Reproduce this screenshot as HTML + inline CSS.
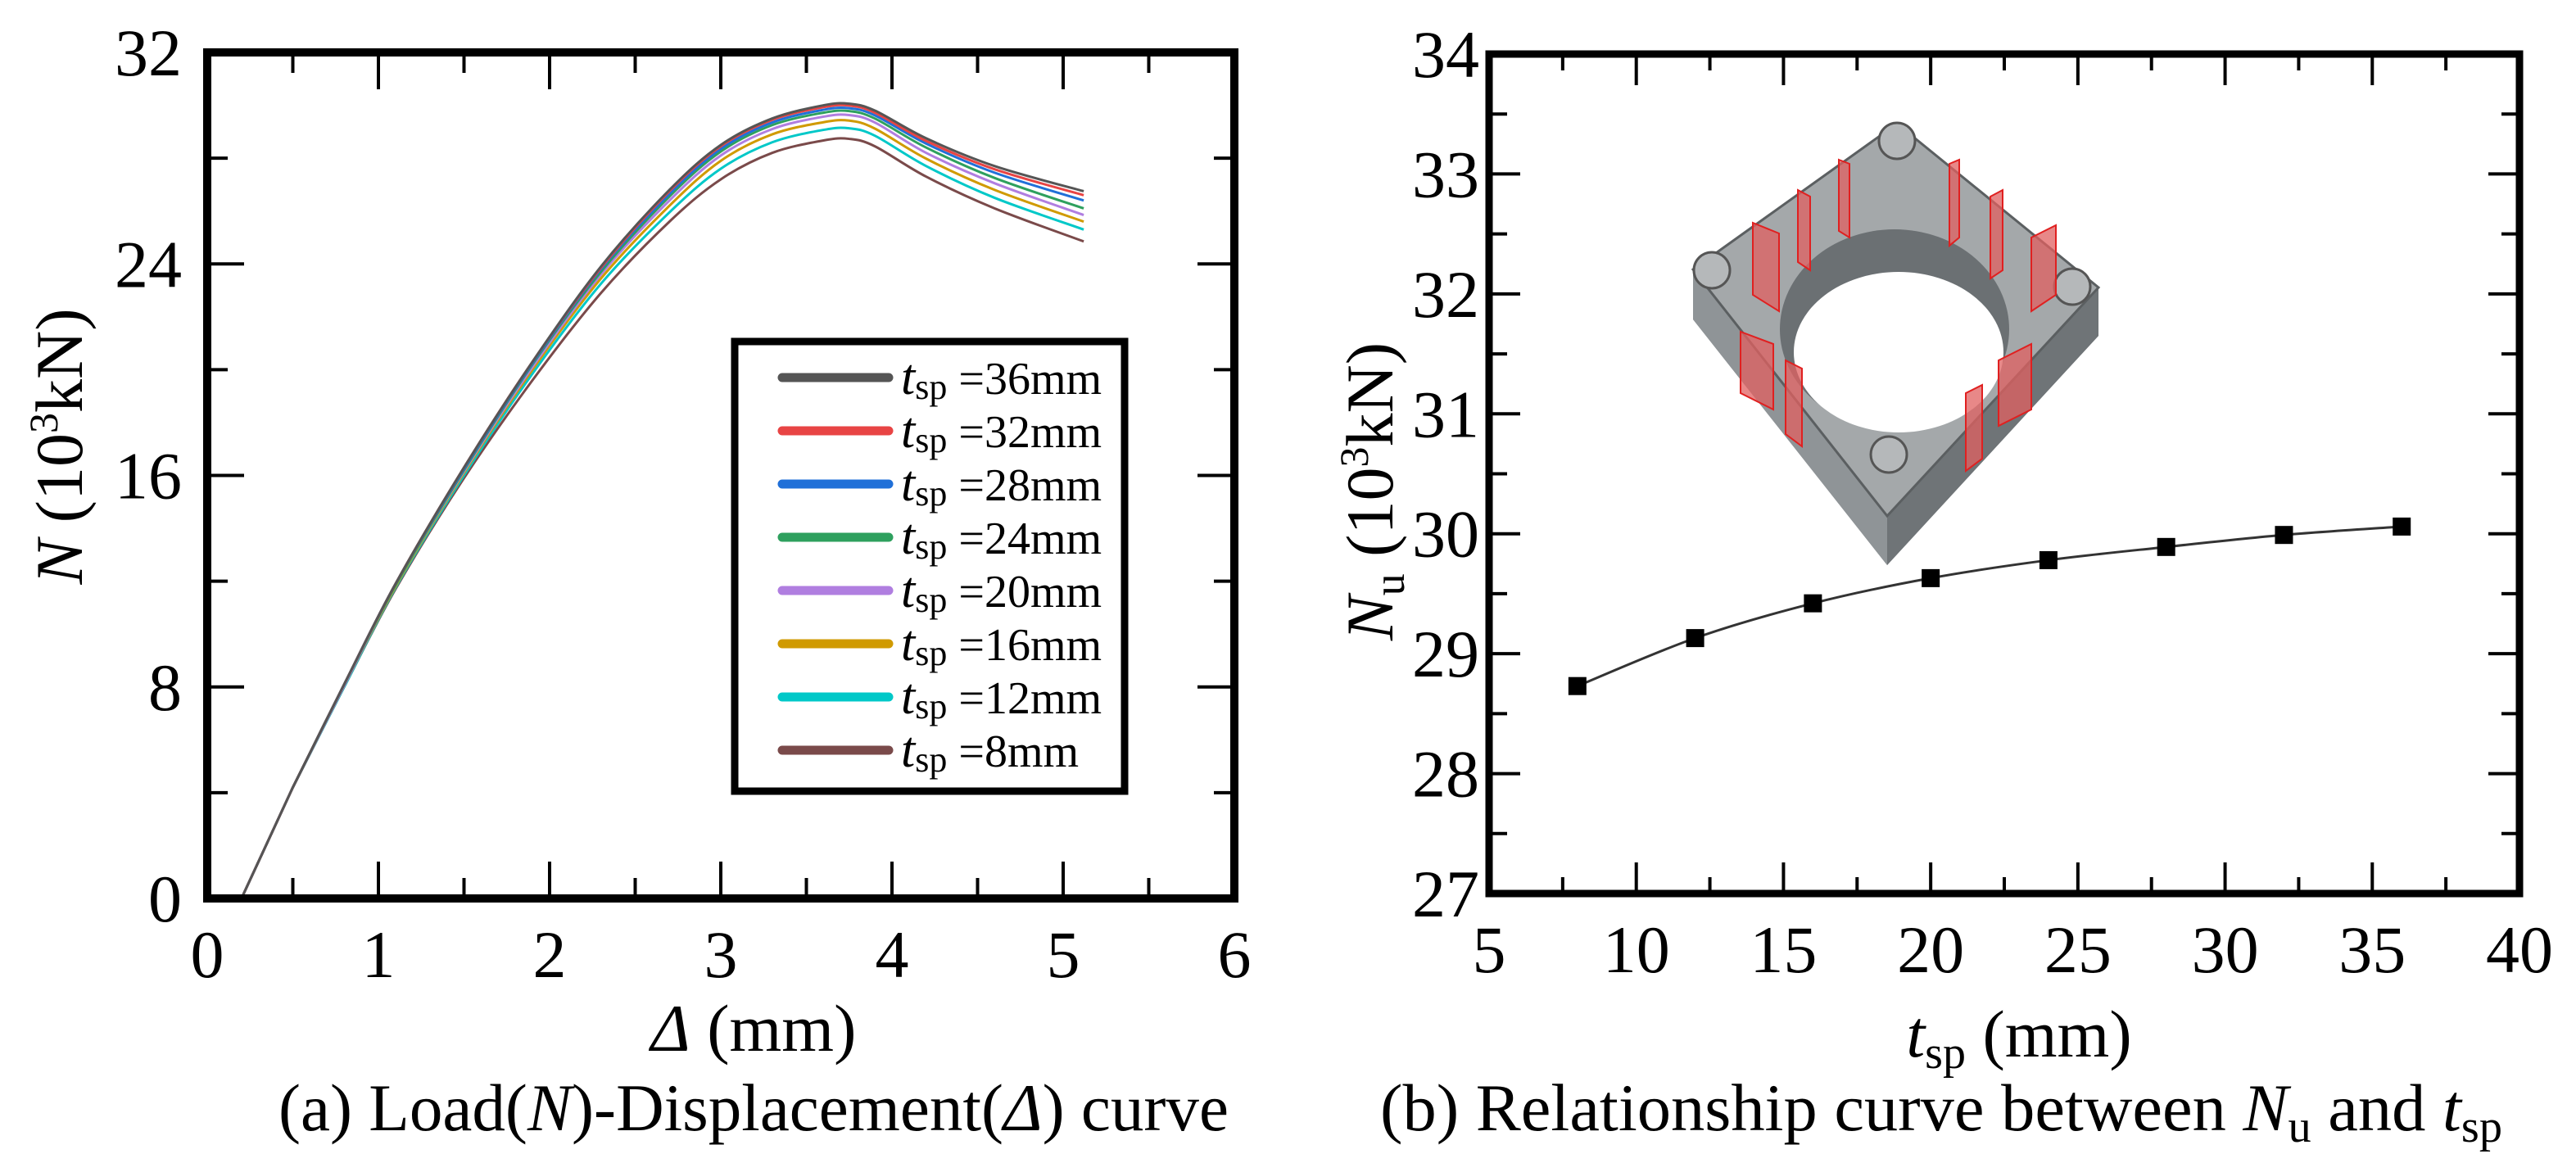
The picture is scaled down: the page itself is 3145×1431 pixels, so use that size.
<!DOCTYPE html>
<html><head><meta charset="utf-8"><style>
html,body{margin:0;padding:0;background:#fff;}
svg{display:block;font-family:"Liberation Serif",serif;}
</style></head><body>
<svg id="fig" width="3145" height="1431" viewBox="0 0 3145 1431" xmlns="http://www.w3.org/2000/svg">
<rect width="3145" height="1431" fill="#fff"/>
<g id="left"></g>
<g id="right"></g>
<!-- inset 3D model -->
<g>
  <polygon points="2067,329 2316,151 2562,351 2562,410 2304,690 2067,390" fill="#7d8285"/>
  <polygon points="2067,329 2067,390 2304,690 2304,630" fill="#8f9497"/>
  <polygon points="2304,630 2562,351 2562,410 2304,690" fill="#6f7477"/>
  <polygon points="2067,329 2316,151 2562,351 2304,630" fill="#a4a8aa" stroke="#5b5f61" stroke-width="3"/>
  <ellipse cx="2313" cy="402" rx="140" ry="122" fill="#6b7073"/>
  <ellipse cx="2318" cy="430" rx="128" ry="98" fill="#fff"/>
  <circle cx="2316" cy="172" r="22" fill="#b5b8ba" stroke="#555" stroke-width="3"/>
  <circle cx="2090" cy="330" r="22" fill="#b5b8ba" stroke="#555" stroke-width="3"/>
  <circle cx="2530" cy="350" r="22" fill="#b5b8ba" stroke="#555" stroke-width="3"/>
  <circle cx="2306" cy="555" r="22" fill="#b5b8ba" stroke="#555" stroke-width="3"/>
  <g fill="#e06060" fill-opacity="0.75" stroke="#e02020" stroke-width="2">
    <polygon points="2140,272 2172,285 2172,380 2140,360"/>
    <polygon points="2195,232 2210,240 2210,330 2195,320"/>
    <polygon points="2245,195 2258,200 2258,290 2245,282"/>
    <polygon points="2380,200 2392,195 2392,290 2380,300"/>
    <polygon points="2430,240 2445,232 2445,330 2430,340"/>
    <polygon points="2480,290 2510,275 2510,360 2480,380"/>
    <polygon points="2125,405 2165,420 2165,500 2125,480"/>
    <polygon points="2180,440 2200,450 2200,545 2180,530"/>
    <polygon points="2440,440 2480,420 2480,500 2440,520"/>
    <polygon points="2400,480 2420,470 2420,560 2400,575"/>
  </g>
</g>
<g id="texts"></g>
</svg>
<script>
// ---------- Left chart data ----------
const dispX = [0, 0.2, 0.5, 0.8, 1.1, 1.5, 1.9, 2.3, 2.7, 3.0, 3.3, 3.6, 3.75, 3.9, 4.2, 4.6, 5.12];
const seriesNames = ["36mm","32mm","28mm","24mm","20mm","16mm","12mm","8mm"];
const seriesColors = ["#555555","#e84444","#2070d8","#2ea05e","#b07ee0","#d09a00","#00c8c8","#7a4a4a"];
const n36 = [0,0,4.2,8.1,11.9,16.3,20.3,23.9,26.8,28.5,29.5,30.0,30.06,29.8,28.75,27.7,26.75];
const n32 = [0,0,4.2,8.1,11.9,16.3,20.3,23.85,26.75,28.45,29.45,29.93,29.99,29.72,28.65,27.58,26.6];
const n28 = [0,0,4.2,8.1,11.9,16.25,20.25,23.8,26.65,28.35,29.35,29.83,29.89,29.62,28.55,27.45,26.4];
const n24 = [0,0,4.2,8.1,11.85,16.2,20.2,23.7,26.55,28.25,29.25,29.72,29.78,29.5,28.4,27.25,26.1];
const n20 = [0,0,4.2,8.05,11.85,16.15,20.1,23.6,26.4,28.1,29.1,29.57,29.63,29.35,28.2,27.05,25.85];
const n16 = [0,0,4.2,8.05,11.8,16.1,20.0,23.45,26.2,27.9,28.9,29.36,29.42,29.12,27.98,26.8,25.6];
const n12 = [0,0,4.2,8.0,11.75,16.0,19.85,23.25,25.95,27.6,28.6,29.07,29.13,28.85,27.7,26.5,25.3];
const n8  = [0,0,4.2,8.0,11.7,15.9,19.6,22.9,25.6,27.2,28.2,28.67,28.73,28.45,27.3,26.1,24.85];
const leftXTicks = ["0","1","2","3","4","5","6"];
const leftYTicks = ["0","8","16","24","32"];
// ---------- Right chart data ----------
const tsp = [8,12,16,20,24,28,32,36];
const nu = [28.73,29.13,29.42,29.63,29.78,29.89,29.99,30.06];
const rightXTicks = ["5","10","15","20","25","30","35","40"];
const rightYTicks = ["27","28","29","30","31","32","33","34"];

const NS="http://www.w3.org/2000/svg";
function mk(tag, attrs, parent){const e=document.createElementNS(NS,tag);for(const k in attrs)e.setAttribute(k,attrs[k]);parent.appendChild(e);return e;}
function smooth(pts){let d="M"+pts[0][0]+","+pts[0][1];for(let i=0;i<pts.length-1;i++){const p0=pts[Math.max(0,i-1)],p1=pts[i],p2=pts[i+1],p3=pts[Math.min(pts.length-1,i+2)];const c1=[p1[0]+(p2[0]-p0[0])/6,p1[1]+(p2[1]-p0[1])/6];const c2=[p2[0]-(p3[0]-p1[0])/6,p2[1]-(p3[1]-p1[1])/6];d+=" C"+c1.join(",")+" "+c2.join(",")+" "+p2.join(",");}return d;}

// ---------- Left chart ----------
const L=document.getElementById("left");
const lx0=253,lx1=1507,ly0=1097,ly1=64;
const lsx=v=>lx0+(v-0)/6*(lx1-lx0);
const lsy=v=>ly0-(v-0)/32*(ly0-ly1);
const allN=[n36,n32,n28,n24,n20,n16,n12,n8];
for(let s=allN.length-1;s>=0;s--){
  const pts=dispX.map((x,i)=>[lsx(x),lsy(allN[s][i])]);
  // straight flat start + straight elastic segment, then smooth
  const d="M"+pts[0].join(",")+" L"+pts[1].join(",")+" L"+pts[2].join(",")+" "+smooth(pts.slice(2)).replace(/^M/,"L");
  const p=mk("path",{d:d,fill:"none",stroke:seriesColors[s],"stroke-width":3},L);
  
  
}
for(let i=0;i<=12;i++){const v=i*0.5,x=lsx(v),len=i%2===0?45:25;
  mk("line",{x1:x,y1:ly0,x2:x,y2:ly0-len,stroke:"#000","stroke-width":4},L);
  mk("line",{x1:x,y1:ly1,x2:x,y2:ly1+len,stroke:"#000","stroke-width":4},L);}
for(let i=0;i<=8;i++){const v=i*4,y=lsy(v),len=i%2===0?45:25;
  mk("line",{x1:lx0,y1:y,x2:lx0+len,y2:y,stroke:"#000","stroke-width":4},L);
  mk("line",{x1:lx1,y1:y,x2:lx1-len,y2:y,stroke:"#000","stroke-width":4},L);}
const lb=mk("rect",{x:lx0,y:ly1,width:lx1-lx0,height:ly0-ly1,fill:"none",stroke:"#000","stroke-width":10},L);

leftXTicks.forEach((t,i)=>{const e=mk("text",{x:lsx(+t),y:1193,"font-size":82,"text-anchor":"middle"},L);e.textContent=t;
  });
leftYTicks.forEach(t=>{const e=mk("text",{x:222,y:lsy(+t)+28,"font-size":82,"text-anchor":"end"},L);e.textContent=t;
  });
const lg=mk("g",{},L);
mk("rect",{x:897,y:417,width:476,height:549,fill:"#fff",stroke:"#000","stroke-width":9},lg);
seriesNames.forEach((nm,i)=>{const y=461+i*65;
  const ln=mk("line",{x1:955,y1:y,x2:1085,y2:y,stroke:seriesColors[i],"stroke-width":11,"stroke-linecap":"round"},lg);
  
  const t=mk("text",{x:1100,y:y+20,"font-size":56},lg);
  
  t.innerHTML='<tspan font-style="italic" font-size="62">t</tspan><tspan font-size="44" dy="6">sp</tspan><tspan dy="-6"> ='+nm+'</tspan>';});

// ---------- Right chart ----------
const R=document.getElementById("right");
const rx0=1818,rx1=3076,ry0=1091,ry1=66;
const rsx=v=>rx0+(v-5)/35*(rx1-rx0);
const rsy=v=>ry0-(v-27)/7*(ry0-ry1);
for(let i=0;i<=14;i++){const v=5+i*2.5,x=rsx(v),len=i%2===0?38:20;
  mk("line",{x1:x,y1:ry0,x2:x,y2:ry0-len,stroke:"#000","stroke-width":4},R);
  mk("line",{x1:x,y1:ry1,x2:x,y2:ry1+len,stroke:"#000","stroke-width":4},R);}
for(let i=0;i<=14;i++){const v=27+i*0.5,y=rsy(v),len=i%2===0?38:22;
  mk("line",{x1:rx0,y1:y,x2:rx0+len,y2:y,stroke:"#000","stroke-width":4},R);
  mk("line",{x1:rx1,y1:y,x2:rx1-len,y2:y,stroke:"#000","stroke-width":4},R);}
const rb=mk("rect",{x:rx0,y:ry1,width:rx1-rx0,height:ry0-ry1,fill:"none",stroke:"#000","stroke-width":9},R);

const rl=mk("path",{d:smooth(tsp.map((t,i)=>[rsx(t),rsy(nu[i])])),fill:"none",stroke:"#333","stroke-width":3},R);

tsp.forEach((t,i)=>{const m=mk("rect",{x:rsx(t)-11,y:rsy(nu[i])-11,width:22,height:22,fill:"#000"},R);
  });
rightXTicks.forEach(t=>{const e=mk("text",{x:rsx(+t),y:1187,"font-size":82,"text-anchor":"middle"},R);e.textContent=t;
  });
rightYTicks.forEach(t=>{const e=mk("text",{x:1806,y:rsy(+t)+28,"font-size":82,"text-anchor":"end"},R);e.textContent=t;
  });

// ---------- Titles & captions ----------
const T=document.getElementById("texts");
function txt(html,attrs,name){const e=mk("text",attrs,T);e.innerHTML=html;return e;}
txt('<tspan font-style="italic">N</tspan> (10<tspan font-size="50" dy="-30">3</tspan><tspan dy="30">kN)</tspan>',{x:0,y:0,"font-size":82,"text-anchor":"middle",transform:"translate(100,545) rotate(-90)"},'left-y-axis-title');
txt('<tspan font-style="italic">Δ</tspan> (mm)',{x:920,y:1283,"font-size":82,"text-anchor":"middle"},'left-x-axis-title');
txt('(a) Load(<tspan font-style="italic">N</tspan>)-Displacement(<tspan font-style="italic">Δ</tspan>) curve',{x:340,y:1380,"font-size":82,textLength:1160,lengthAdjust:"spacingAndGlyphs"},'caption-a');
txt('<tspan font-style="italic">N</tspan><tspan font-size="54" dy="14">u</tspan><tspan dy="-14"> (10</tspan><tspan font-size="50" dy="-30">3</tspan><tspan dy="30">kN)</tspan>',{x:0,y:0,"font-size":82,"text-anchor":"middle",transform:"translate(1700,600) rotate(-90)"},'right-y-axis-title');
txt('<tspan font-style="italic">t</tspan><tspan font-size="56" dy="14">sp</tspan><tspan dy="-14"> (mm)</tspan>',{x:2465,y:1290,"font-size":82,"text-anchor":"middle"},'right-x-axis-title');
txt('(b) Relationship curve between <tspan font-style="italic">N</tspan><tspan font-size="56" dy="14">u</tspan><tspan dy="-14"> and </tspan><tspan font-style="italic">t</tspan><tspan font-size="56" dy="14">sp</tspan>',{x:1685,y:1380,"font-size":82,textLength:1370,lengthAdjust:"spacingAndGlyphs"},'caption-b');
</script>
</body></html>
